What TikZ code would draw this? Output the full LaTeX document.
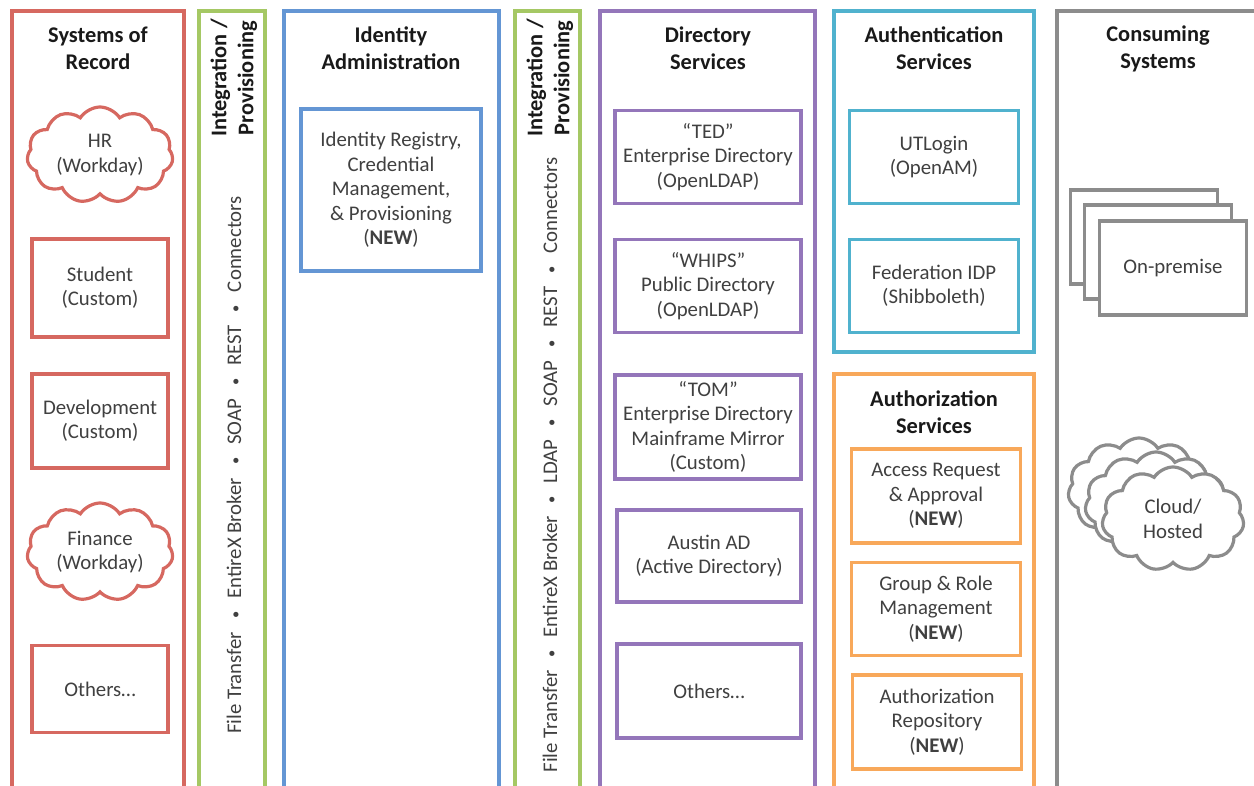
\documentclass[tikz,border=0pt]{standalone}
\usepackage{fontspec}
\setmainfont{Carlito}
\usepackage{xcolor}
\usetikzlibrary{positioning, shapes.symbols}

\definecolor{recred}{RGB}{214,104,96}
\definecolor{intgreen}{RGB}{165,200,100}
\definecolor{admblue}{RGB}{100,150,212}
\definecolor{dirpurple}{RGB}{148,118,186}
\definecolor{authncyan}{RGB}{80,178,206}
\definecolor{authzorange}{RGB}{248,168,90}
\definecolor{consgray}{RGB}{140,140,140}
\definecolor{txtgray}{RGB}{64,64,64}

\begin{document}
\begin{tikzpicture}[x=0.5pt, y=-0.5pt, line width=1.6pt,
    col/.style={draw=#1},
    title/.style={align=center, text=black!90, font=\fontsize{11.2}{13.5}\selectfont\bfseries},
    box/.style={draw=#1, fill=white, rectangle, align=center, text=txtgray, inner sep=2pt,
        font=\fontsize{10.4}{12.2}\selectfont},
    puff/.style={draw=#1, fill=white, cloud, cloud puffs=11, cloud puff arc=115, cloud ignores aspect,
        align=center, text=txtgray, inner sep=0pt, font=\fontsize{10.4}{12.2}\selectfont},
    flow/.style={rotate=90, text=txtgray, font=\fontsize{10.4}{12.2}\selectfont}]
    \useasboundingbox (0,0) rectangle (1254,786);
    \newcommand{\sep}{\hspace{0.62em}\raisebox{0.5pt}{\scalebox{0.7}{\textbullet}}\hspace{0.62em}}

    \draw[col=recred] (12,786) -- (12,11) -- (184,11) -- (184,786);
    \draw[col=intgreen] (199,786) -- (199,11) -- (265,11) -- (265,786);
    \draw[col=admblue] (284,786) -- (284,11) -- (499,11) -- (499,786);
    \draw[col=intgreen] (515,786) -- (515,11) -- (580,11) -- (580,786);
    \draw[col=dirpurple] (600,786) -- (600,11) -- (815,11) -- (815,786);
    \draw[col=authncyan] (834,11) rectangle (1034,352);
    \draw[col=authzorange] (834,786) -- (834,374) -- (1034,374) -- (1034,786);
    \draw[col=consgray] (1057,786) -- (1057,11) -- (1254,11);

    \node[title] (sor) at (98,48) {Systems of\\Record};
    \node[title, rotate=90] (int1) at (234,78) {Integration /\\Provisioning};
    \node[title] (ida) at (391,48) {Identity\\Administration};
    \node[title, rotate=90] (int2) at (550,78) {Integration /\\Provisioning};
    \node[title] (dir) at (708,48) {Directory\\Services};
    \node[title] (authn) at (934,48) {Authentication\\Services};
    \node[title] (authz) at (934,412) {Authorization\\Services};
    \node[title] (cons) at (1158,49) {Consuming\\Systems};

    \node[puff=recred, minimum width=73pt, minimum height=48pt] (hr) at (100,155) {HR\\(Workday)};
    \node[box=recred, minimum width=68pt, minimum height=49pt] (student) at (100,288) {Student\\(Custom)};
    \node[box=recred, minimum width=68pt, minimum height=47pt] (dev) at (100,421) {Development\\(Custom)};
    \node[puff=recred, minimum width=73pt, minimum height=49pt] (fin) at (100,552) {Finance\\(Workday)};
    \node[box=recred, minimum width=68pt, minimum height=43.5pt] (others1) at (100,689) {Others…};

    \node[flow] (flow1) at (234,465) {File Transfer\sep EntireX Broker\sep SOAP\sep REST\sep Connectors};
    \node[flow] (flow2) at (550,465) {File Transfer\sep EntireX Broker\sep LDAP\sep SOAP\sep REST\sep Connectors};

    \node[box=admblue, minimum width=90pt, minimum height=81pt] (idreg) at (391,190)
        {Identity Registry,\\Credential\\Management,\\\& Provisioning\\(\textbf{NEW})};

    \node[box=dirpurple, minimum width=93pt, minimum height=46.5pt] (ted) at (708,157) {“TED”\\Enterprise Directory\\(OpenLDAP)};
    \node[box=dirpurple, minimum width=93pt, minimum height=46.5pt] (whips) at (708,286) {“WHIPS”\\Public Directory\\(OpenLDAP)};
    \node[box=dirpurple, minimum width=93pt, minimum height=52pt] (tom) at (708,427) {“TOM”\\Enterprise Directory\\Mainframe Mirror\\(Custom)};
    \node[box=dirpurple, minimum width=92pt, minimum height=46pt] (ad) at (709,556) {Austin AD\\(Active Directory)};
    \node[box=dirpurple, minimum width=92pt, minimum height=47pt] (others2) at (709,691) {Others…};

    \node[box=authncyan, minimum width=84.5pt, minimum height=46.5pt] (utlogin) at (934,157) {UTLogin\\(OpenAM)};
    \node[box=authncyan, minimum width=84.5pt, minimum height=46.5pt] (fedidp) at (934,286) {Federation IDP\\(Shibboleth)};

    \node[box=authzorange, minimum width=84.5pt, minimum height=47pt] (access) at (936,496) {Access Request\\\& Approval\\(\textbf{NEW})};
    \node[box=authzorange, minimum width=84.5pt, minimum height=46.5pt] (group) at (936,609) {Group \& Role\\Management\\(\textbf{NEW})};
    \node[box=authzorange, minimum width=84.5pt, minimum height=47pt] (repo) at (937,722) {Authorization\\Repository\\(\textbf{NEW})};

    \node[box=consgray, minimum width=73.5pt, minimum height=47pt] (prem3) at (1144,237) {};
    \node[box=consgray, minimum width=73.5pt, minimum height=47pt] (prem2) at (1158,252) {};
    \node[box=consgray, minimum width=73.5pt, minimum height=47pt] (prem1) at (1173,268) {On-premise};

    \node[puff=consgray, minimum width=71pt, minimum height=52pt] (cloud3) at (1139,490) {};
    \node[puff=consgray, minimum width=71pt, minimum height=52pt] (cloud2) at (1156,504) {};
    \node[puff=consgray, minimum width=71pt, minimum height=52pt] (cloud1) at (1173,519) {Cloud/\\Hosted};
\end{tikzpicture}
\end{document}
